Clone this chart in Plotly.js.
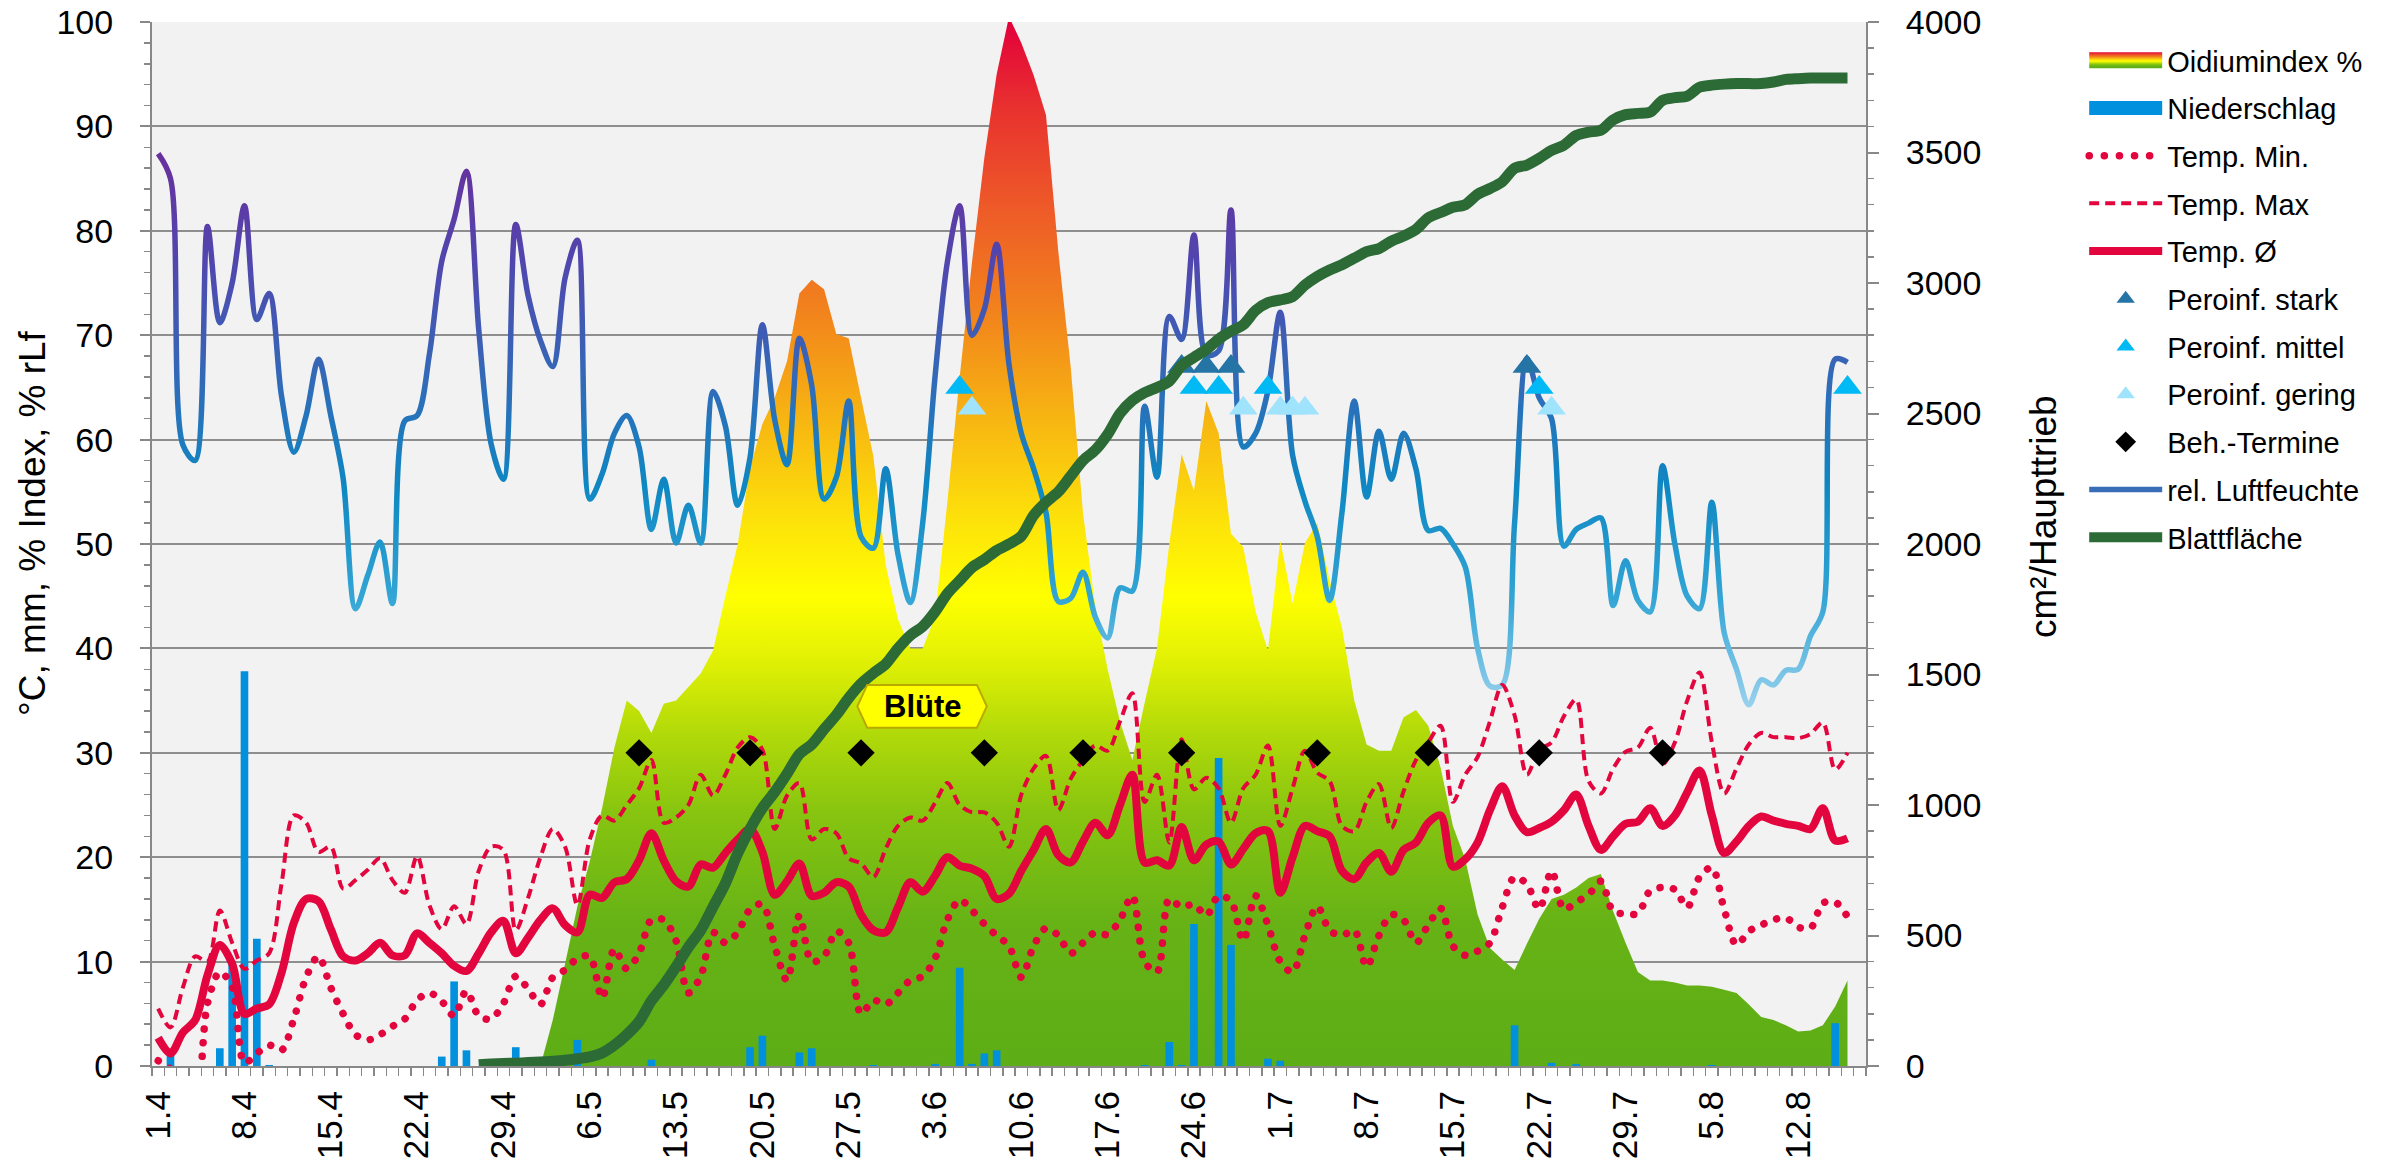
<!DOCTYPE html>
<html>
<head>
<meta charset="utf-8">
<script src="https://cdn.plot.ly/plotly-3.0.1.min.js"></script>
<style>html,body{margin:0;padding:0;background:#fff;}#chart{width:2397px;height:1163px;}</style>
</head>
<body>
<div id="chart"></div>
<script>
// ---------------- DATA (day index 0 = 1.4.) ----------------
var tickDays   = [0,7,14,21,28,35,42,49,56,63,70,77,84,91,98,105,112,119,126,133];
var tickLabels = ['1.4','8.4','15.4','22.4','29.4','6.5','13.5','20.5','27.5','3.6','10.6','17.6','24.6','1.7','8.7','15.7','22.7','29.7','5.8','12.8'];

var oidium = [0,0,0,0,0,0,0,0,0,0, 0,0,0,0,0,0,0,0,0,0, 0,0,0,0,0,0,0,0,0,0,
  0,0,4.4,9.8,15.3,19.6,24.7,30.5,35.0,34.0,
  31.9,34.7,35.0,36.3,37.6,39.8,45.0,50.0,57.3,61.5,
  64.0,67.5,74.0,75.3,74.4,70.1,69.7,64.0,58.4,48.0,
  42.8,40.0,40.0,43.0,54.0,66.0,77.0,87.0,95.0,100.5,
  98.0,94.9,91.1,78.0,67.0,53.0,44.0,38.0,33.0,29.3,
  34.8,40.0,50.0,58.6,55.1,63.7,60.6,51.0,49.7,43.5,
  39.8,50.3,44.3,50.1,52.0,46.5,42.0,35.0,30.8,30.2,
  30.2,33.4,34.1,32.6,28.6,23.0,19.8,14.5,11.3,10.2,
  9.2,11.7,14.1,16.0,16.4,17.1,18.0,18.4,14.8,11.8,
  9.0,8.2,8.2,8.0,7.7,7.7,7.6,7.3,7.0,5.9,
  4.7,4.4,3.9,3.3,3.4,3.9,5.7,8.2];

var rain = [0,1.2,0,0,0,1.7,10.0,37.8,12.2,0.1,
  0,0,0,0,0,0,0,0,0,0,
  0,0,0,0.9,8.1,1.5,0,0,0,1.8,
  0,0,0,0,2.5,0,0,0,0,0,
  0.6,0,0,0,0,0,0,0,1.8,2.9,
  0,0,1.3,1.7,0,0,0,0,0.1,0,
  0,0,0,0.2,0,9.4,0.2,1.2,1.5,0,
  0,0,0,0,0,0,0,0,0,0,
  0.1,0,2.3,0.1,13.6,0,29.5,11.6,0,0,
  0.7,0.5,0,0,0,0,0,0,0,0,
  0,0,0,0,0,0,0,0,0,0,
  3.9,0,0,0.3,0,0.2,0,0,0,0,
  0,0,0,0,0,0,0.1,0,0,0,
  0,0,0,0,0,0,4.1,0];

var tempMin = [0.5,-0.3,-2.0,-3.0,6.0,9.0,7.6,0.3,1.2,2.0,
  1.5,4.5,8.5,10.5,7.5,5.0,3.0,2.5,3.0,3.8,
  4.5,6.3,7.0,6.2,4.8,7.2,4.8,4.5,6.0,8.6,
  7.4,5.9,8.5,9.2,10.3,10.5,6.5,11.2,9.3,10.8,
  14.0,14.0,12.0,7.0,8.6,12.8,11.8,12.8,15.0,15.5,
  11.5,8.2,14.4,10.0,10.5,12.9,11.8,5.0,6.3,5.9,
  7.0,8.2,8.6,10.3,14.0,15.9,14.9,13.6,12.5,11.5,
  8.5,11.5,13.2,12.5,10.8,11.8,12.8,12.6,14.0,16.3,
  10.0,9.0,16.0,15.2,15.5,14.4,16.3,15.8,12.0,16.3,
  13.5,10.0,9.0,12.5,15.3,13.0,12.5,13.0,9.5,12.5,
  14.5,14.0,11.8,13.5,15.1,11.5,10.6,11.0,11.8,15.2,
  18.1,17.4,15.0,18.7,15.0,15.7,16.4,17.7,14.8,14.6,
  14.6,16.8,17.1,16.9,15.2,18.1,19.0,15.0,11.6,12.9,
  13.5,14.0,14.2,13.3,13.2,15.6,15.7,14.3];

var tempMax = [5.5,3.7,7.5,10.5,10.0,14.9,11.8,9.3,10.1,10.8,
  17.4,24.0,23.3,20.5,21.0,17.0,17.8,18.8,19.9,17.8,
  16.6,20.1,15.4,13.1,15.3,13.6,18.7,21.0,20.7,13.0,
  16.1,20.0,22.7,21.0,15.4,21.7,24.0,23.5,25.0,26.6,
  29.3,23.3,23.8,25.0,27.9,25.9,27.9,30.5,31.5,30.3,
  22.7,25.9,27.1,21.7,22.7,22.3,19.9,19.4,18.1,20.8,
  23.0,23.8,23.5,25.2,27.1,25.0,24.3,24.3,23.3,21.0,
  26.0,28.5,29.7,24.5,27.5,29.3,30.7,30.2,33.0,35.7,
  25.3,27.9,21.4,31.3,26.5,27.6,26.6,23.3,26.6,27.9,
  30.7,23.0,26.6,30.2,28.1,27.3,23.0,22.5,25.3,27.0,
  22.8,26.3,29.3,31.0,32.6,25.3,27.9,29.6,33.0,36.5,
  33.6,27.9,30.3,31.0,33.5,35.1,27.3,26.1,28.5,30.1,
  30.5,32.4,28.9,31.0,35.0,37.7,31.0,26.1,28.5,30.8,
  31.9,31.5,31.5,31.4,31.8,32.9,28.4,30.0];

var tempAvg = [2.7,1.2,3.2,4.4,8.7,11.6,9.8,5.0,5.5,5.9,
  8.9,13.7,16.0,15.8,13.1,10.5,10.1,10.8,11.8,10.6,
  10.6,12.7,11.8,10.8,9.6,9.1,10.8,12.8,13.9,10.8,
  12.3,14.0,15.1,13.5,12.8,16.4,16.1,17.6,17.9,19.7,
  22.3,19.7,17.7,17.2,19.3,19.0,20.4,21.7,22.7,20.5,
  16.4,17.7,19.4,16.3,16.6,17.6,17.2,14.5,13.0,12.8,
  15.2,17.6,16.7,18.2,20.0,19.2,18.9,18.2,16.0,16.5,
  18.7,20.7,22.7,20.2,19.5,21.5,23.3,22.1,25.0,27.9,
  19.5,19.7,19.2,22.9,19.7,21.2,21.5,19.3,20.8,22.3,
  22.5,16.6,20.0,23.0,22.5,22.0,18.7,17.9,19.5,20.4,
  18.6,20.7,21.4,23.3,24.0,19.1,19.8,21.4,24.5,26.8,
  24.0,22.4,22.8,23.4,24.5,26.0,23.0,20.7,22.0,23.2,
  23.4,24.7,23.0,24.0,26.2,28.3,24.0,20.4,21.5,23.0,
  23.9,23.5,23.2,23.0,22.7,24.7,21.6,21.8];

var humidity = [87.4,85.0,59.5,58.0,80.4,71.2,75.0,82.4,71.5,74.0,
  64.2,58.8,62.3,67.7,62.3,56.3,43.8,47.0,50.2,44.3,
  61.8,62.3,68.2,77.1,81.1,85.7,70.5,59.6,56.2,80.6,
  73.8,69.5,67.0,75.5,79.1,54.3,56.7,60.6,62.3,59.3,
  51.4,56.2,50.1,53.7,50.1,64.6,61.3,53.7,58.3,71.0,
  61.9,57.6,69.7,65.2,54.3,56.4,63.7,50.7,49.6,57.2,
  49.0,44.4,52.0,66.0,77.0,82.4,70.0,72.5,78.7,67.2,
  60.6,57.2,53.0,44.5,44.8,47.3,43.0,41.0,45.8,45.5,
  63.2,56.4,71.8,69.6,79.6,68.1,68.5,82.0,59.3,60.6,
  64.7,72.2,58.5,54.1,50.7,44.6,53.0,63.7,54.5,60.8,
  56.2,60.6,57.2,51.3,51.5,50.0,47.8,40.0,36.4,36.5,
  52.0,67.8,64.0,62.0,49.8,51.4,52.0,52.5,44.1,48.4,
  44.6,43.5,57.5,50.0,45.0,43.8,54.0,41.5,38.0,34.6,
  37.0,36.5,37.9,38.0,41.2,43.5,67.7,67.4];

var leafArea = [null,null,null,null,null,null,null,null,null,null,
  null,null,null,null,null,null,null,null,null,null,
  null,null,null,null,null,null,5,8,10,11,
  13,15,18,22,28,35,50,80,120,170,
  250,310,380,455,520,610,700,815,908,988,
  1050,1120,1195,1232,1290,1345,1410,1465,1505,1540,
  1600,1650,1684,1740,1810,1860,1910,1940,1975,2000,
  2030,2110,2160,2200,2260,2320,2360,2420,2500,2550,
  2580,2600,2624,2684,2715,2745,2785,2815,2840,2895,
  2925,2935,2948,2992,3025,3050,3070,3095,3120,3132,
  3160,3180,3205,3250,3270,3290,3300,3340,3362,3388,
  3440,3452,3478,3508,3528,3565,3578,3585,3625,3645,
  3650,3655,3700,3710,3716,3750,3758,3762,3764,3764,
  3764,3770,3780,3783,3785,3785,3785,3785];

var periStarkDays  = [83,85,87,111];       var periStarkLevel  = 67;
var periMittelDays = [65,84,86,90,112,137]; var periMittelLevel = 65;
var periGeringDays = [66,88,91,92,93,113];  var periGeringLevel = 63;
var treatDays = [39,48,57,67,75,83,94,103,112,122]; var treatLevel = 30;

var bluteDay = 62, bluteLevel = 34.45;

// ---------------- BUILD ----------------
function idx(arr){ return arr.map(function(_, i){ return i; }); }
function lvl(days, v){ return days.map(function(){ return v; }); }

var RED = '#e3053d';
var FONT = 'Liberation Sans, Arial, Helvetica, sans-serif';

var traces = [
  { name:'Oidiumindex %', x: idx(oidium), y: oidium, type:'scatter', mode:'none', fill:'tozeroy',
    fillcolor:'#f3a21a',
    fillgradient:{ type:'vertical', start:0, stop:100,
      colorscale:[[0,'#5dad16'],[0.14,'#67b316'],[0.24,'#86c410'],[0.32,'#b2da09'],[0.39,'#e2f104'],
                  [0.45,'#ffff00'],[0.52,'#fde30a'],[0.62,'#f7b512'],[0.72,'#f2841c'],[0.82,'#ee5b28'],
                  [0.92,'#e8302f'],[1,'#e3003b']] },
    legendrank:1, legendgroup:'g1', hoverinfo:'skip' },
  { name:'Niederschlag', x: idx(rain), y: rain, type:'bar', yaxis:'y2', width:0.62,
    marker:{ color:'#0090dd', line:{width:0} }, legendrank:2, legendgroup:'g2' },
  { name:'rel. Luftfeuchte', x: idx(humidity), y: humidity, type:'scatter', mode:'lines', yaxis:'y2',
    line:{ color:'#3a6db8', width:5.5, shape:'spline', smoothing:0.9 }, legendrank:10, legendgroup:'g10' },
  { name:'Temp. Min.', x: idx(tempMin), y: tempMin, type:'scatter', mode:'lines', yaxis:'y2',
    line:{ color:RED, width:7.5, dash:'1px,13px', shape:'spline', smoothing:0.9 }, legendrank:3, legendgroup:'g3' },
  { name:'Temp. Max', x: idx(tempMax), y: tempMax, type:'scatter', mode:'lines', yaxis:'y2',
    line:{ color:RED, width:4, dash:'10px,6px', shape:'spline', smoothing:0.9 }, legendrank:4, legendgroup:'g4' },
  { name:'Temp. Ø', x: idx(tempAvg), y: tempAvg, type:'scatter', mode:'lines', yaxis:'y2',
    line:{ color:RED, width:8, shape:'spline', smoothing:0.9 }, legendrank:5, legendgroup:'g5' },
  { name:'Peroinf. stark', x: periStarkDays, y: lvl(periStarkDays, periStarkLevel), type:'scatter', mode:'markers', yaxis:'y2',
    marker:{ symbol:'triangle-up', size:25, color:'#2474a6', line:{width:0} }, legendrank:6, legendgroup:'g6' },
  { name:'Peroinf. mittel', x: periMittelDays, y: lvl(periMittelDays, periMittelLevel), type:'scatter', mode:'markers', yaxis:'y2',
    marker:{ symbol:'triangle-up', size:25, color:'#00b9f5', line:{width:0} }, legendrank:7, legendgroup:'g7' },
  { name:'Peroinf. gering', x: periGeringDays, y: lvl(periGeringDays, periGeringLevel), type:'scatter', mode:'markers', yaxis:'y2',
    marker:{ symbol:'triangle-up', size:25, color:'#9fe3fd', line:{width:0} }, legendrank:8, legendgroup:'g8' },
  { name:'Beh.-Termine', x: treatDays, y: lvl(treatDays, treatLevel), type:'scatter', mode:'markers', yaxis:'y2',
    marker:{ symbol:'diamond', size:21, color:'#000000', line:{width:0} }, legendrank:9, legendgroup:'g9' },
  { name:'Blattfläche', x: idx(leafArea), y: leafArea, type:'scatter', mode:'lines', yaxis:'y3',
    line:{ color:'#2c6a36', width:11, shape:'spline', smoothing:0.8 }, connectgaps:false, legendrank:11, legendgroup:'g11' }
];

var axisGray = '#888888';
var layout = {
  width:2397, height:1163,
  margin:{ l:152, r:531, t:22, b:97, pad:0 },
  paper_bgcolor:'#ffffff', plot_bgcolor:'#f2f2f2',
  font:{ family:FONT, size:34, color:'#000000' },
  showlegend:true,
  legend:{ xref:'container', yref:'container', x:0.8695, y:0.970, xanchor:'left', yanchor:'top',
           font:{ size:29, family:FONT, color:'#000' }, itemwidth:73, tracegroupgap:7, traceorder:'grouped',
           bgcolor:'rgba(0,0,0,0)', borderwidth:0 },
  xaxis:{ range:[-0.5,138.5], tickmode:'array', tickvals: tickDays, ticktext: tickLabels,
          tickangle:-90, ticks:'', ticklabelstandoff:9,
          showline:true, linecolor:axisGray, linewidth:2, showgrid:false, zeroline:false,
          tickfont:{ size:35 },
          minor:{ tickmode:'linear', tick0:-0.5, dtick:1, ticks:'outside', ticklen:8, tickwidth:1.5, tickcolor:axisGray, showgrid:false } },
  xaxis2:{ range:[-0.5,138.5], overlaying:'x', anchor:'y', side:'bottom', tickmode:'array',
           tickvals: tickDays.map(function(d){ return d-0.5; }), showticklabels:false,
           ticks:'outside', ticklen:15, tickwidth:2, tickcolor:axisGray, showline:false, showgrid:false, zeroline:false },
  yaxis:{ range:[0,100], tickmode:'linear', tick0:0, dtick:10, ticks:'outside', ticklen:10, tickwidth:2, tickcolor:axisGray,
          ticklabelstandoff:20, showline:true, linecolor:axisGray, linewidth:2, showgrid:true, gridcolor:'#8e8e8e', gridwidth:2,
          zeroline:false, tickfont:{ size:34 },
          minor:{ dtick:2, ticks:'outside', ticklen:6, tickwidth:1.5, tickcolor:axisGray, showgrid:false } },
  yaxis2:{ range:[0,100], overlaying:'y', visible:false, fixedrange:true },
  yaxis3:{ range:[0,4000], overlaying:'y', side:'right', tickmode:'linear', tick0:0, dtick:500,
           ticks:'outside', ticklen:11, tickwidth:2, tickcolor:axisGray, ticklabelstandoff:20,
           showline:true, linecolor:axisGray, linewidth:2, showgrid:false, zeroline:false, tickfont:{ size:34 },
           minor:{ dtick:100, ticks:'outside', ticklen:6, tickwidth:1.5, tickcolor:axisGray, showgrid:false } },
  shapes:[
    { type:'path', xref:'x', yref:'y', layer:'above',
      path:'M'+(bluteDay-5.3)+','+bluteLevel+' L'+(bluteDay-4.5)+','+(bluteLevel+2.05)+' L'+(bluteDay+4.4)+','+(bluteLevel+2.05)+
           ' L'+(bluteDay+5.2)+','+bluteLevel+' L'+(bluteDay+4.4)+','+(bluteLevel-2.05)+' L'+(bluteDay-4.5)+','+(bluteLevel-2.05)+' Z',
      fillcolor:'#ffff00', line:{ color:'#b9a900', width:2 } }
  ],
  annotations:[
    { text:'°C, mm, % Index, % rLf', xref:'paper', yref:'paper', x:0, y:0.5, xshift:-120, yshift:21,
      textangle:-90, showarrow:false, xanchor:'center', yanchor:'middle', font:{ size:37 } },
    { text:'cm²/Haupttrieb', xref:'paper', yref:'paper', x:1, y:0.5, xshift:177, yshift:27,
      textangle:-90, showarrow:false, xanchor:'center', yanchor:'middle', font:{ size:37 } },
    { text:'<b>Blüte</b>', xref:'x', yref:'y', x:bluteDay, y:bluteLevel, showarrow:false,
      xanchor:'center', yanchor:'middle', font:{ size:31, color:'#000' } }
  ]
};

var gd = document.getElementById('chart');
Plotly.newPlot(gd, traces, layout, { staticPlot:true, displayModeBar:false }).then(function(){
  try {
    var NS = 'http://www.w3.org/2000/svg';
    var svg = gd.querySelector('svg.main-svg');
    var defs = svg.querySelector('defs') || svg.insertBefore(document.createElementNS(NS,'defs'), svg.firstChild);
    var ya = gd._fullLayout.yaxis2;
    var grad = document.createElementNS(NS, 'linearGradient');
    grad.setAttribute('id', 'rhGrad');
    grad.setAttribute('gradientUnits', 'userSpaceOnUse');
    grad.setAttribute('x1', '0'); grad.setAttribute('x2', '0');
    grad.setAttribute('y1', String(ya.l2p(88))); grad.setAttribute('y2', String(ya.l2p(34)));
    [[0,'#6a2f9c'],[0.2,'#5146ae'],[0.4,'#3468b7'],[0.6,'#0e87c2'],[0.8,'#33a5d5'],[1,'#9dd3ee']].forEach(function(s){
      var st = document.createElementNS(NS, 'stop');
      st.setAttribute('offset', s[0]); st.setAttribute('stop-color', s[1]);
      grad.appendChild(st);
    });
    defs.appendChild(grad);
    gd.querySelectorAll('.scatterlayer .trace').forEach(function(g){
      var cd = g.__data__; var t = cd && cd[0] && cd[0].trace; if(!t) return;
      if(t.name === 'rel. Luftfeuchte') g.querySelectorAll('path.js-line').forEach(function(p){ p.style.stroke = 'url(#rhGrad)'; });
      if(t.name === 'Temp. Min.') g.querySelectorAll('path.js-line').forEach(function(p){ p.style.strokeLinecap = 'round'; p.style.strokeDasharray = '0.1px,13.5px'; });
    });
    gd.querySelectorAll('.legend .traces').forEach(function(g){
      var d = g.__data__; var t = d && d[0] && d[0].trace; if(!t) return;
      if(t.name === 'Temp. Min.') g.querySelectorAll('path').forEach(function(p){ p.style.strokeLinecap = 'round'; p.style.strokeDasharray = '0.1px,15px'; });
      if(t.name === 'Oidiumindex %') g.querySelectorAll('.legendfill path').forEach(function(p){ p.setAttribute('d', 'M5,-8h73v16h-73z'); });
      if(t.name === 'Niederschlag') g.querySelectorAll('.legendpoints path').forEach(function(p){ p.setAttribute('d', 'M-36.5,-7H36.5V7H-36.5Z'); });
    });
  } catch(e) { console.log(e); }
});
</script>
</body>
</html>
